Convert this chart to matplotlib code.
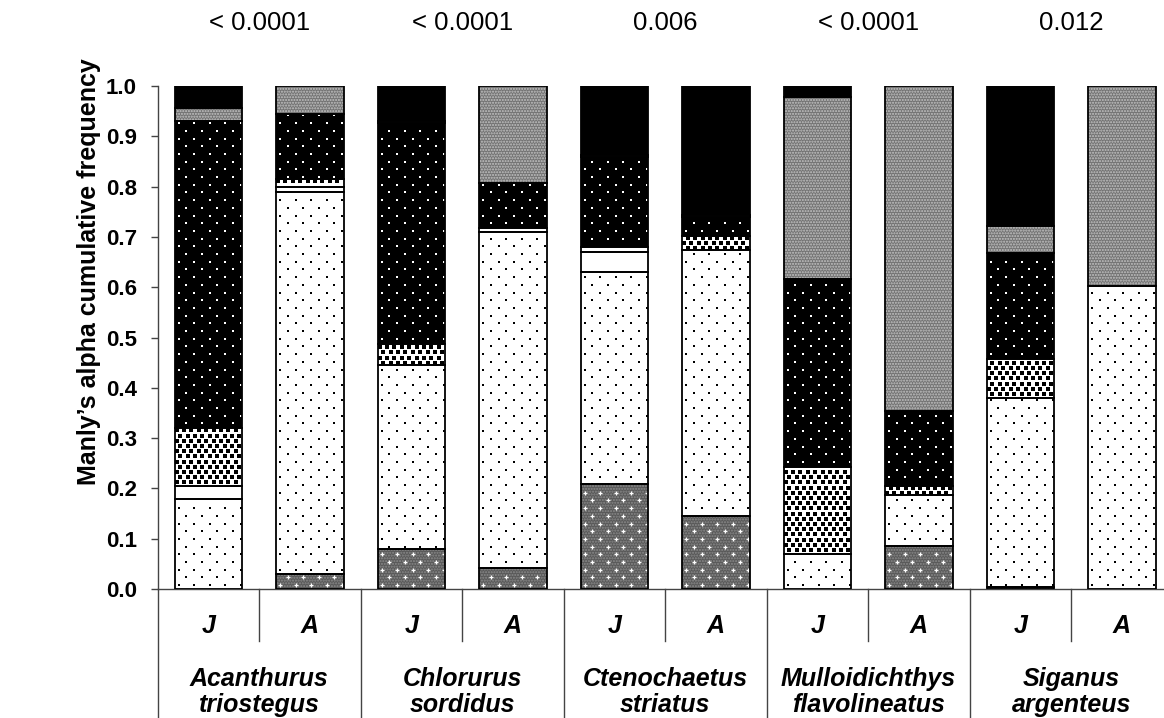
import matplotlib
matplotlib.use("Agg")
import matplotlib.pyplot as plt
from matplotlib.lines import Line2D
import numpy as np

plt.rcParams['font.family'] = ['Liberation Sans', 'DejaVu Sans']
plt.rcParams['hatch.linewidth'] = 1.0

species = ["Acanthurus\ntriostegus", "Chlorurus\nsordidus", "Ctenochaetus\nstriatus",
           "Mulloidichthys\nflavolineatus", "Siganus\nargenteus"]
stages = ["J", "A", "J", "A", "J", "A", "J", "A", "J", "A"]
p_values = ["< 0.0001", "< 0.0001", "0.006", "< 0.0001", "0.012"]

# segment heights, bottom to top, for each bar (J1, A1, J2, A2, ...)
cat1 = [0.000, 0.030, 0.079, 0.041, 0.209, 0.145, 0.000, 0.085, 0.003, 0.000]
cat2 = [0.178, 0.760, 0.367, 0.669, 0.421, 0.528, 0.070, 0.102, 0.376, 0.603]
cat3 = [0.027, 0.010, 0.000, 0.000, 0.039, 0.000, 0.000, 0.000, 0.000, 0.000]
cat4 = [0.115, 0.015, 0.041, 0.007, 0.011, 0.029, 0.173, 0.018, 0.078, 0.000]
cat5 = [0.611, 0.130, 0.440, 0.091, 0.178, 0.037, 0.373, 0.149, 0.210, 0.000]
cat6 = [0.025, 0.055, 0.004, 0.192, 0.005, 0.005, 0.362, 0.646, 0.055, 0.397]
cat7 = [0.044, 0.000, 0.069, 0.000, 0.137, 0.256, 0.022, 0.000, 0.278, 0.000]
cats = [cat1, cat2, cat3, cat4, cat5, cat6, cat7]

# style per category: facecolor, fine hatch (hatch, colour), texture (marker, colour, size, dx_px, dy_px)
styles = [
    ("#595959", ("......", "#8a8a8a"), ("+", "white", 4.5, 15.5, 7.7)),
    ("white", None, ("s", "black", 1.5, 15.5, 7.7)),
    ("white", None, None),
    ("white", None, ("s", "black", 3.4, 7.4, 5.2)),
    ("black", None, ("s", "white", 1.6, 15.5, 7.7)),
    ("#737373", ("......", "#c4c4c4"), None),
    ("black", None, None),
]

W, H = 1164, 718
fig = plt.figure(figsize=(W / 100, H / 100), dpi=100)
x0 = 157.7
slot = 101.5
ax_pix_h = 589 - 86
ax = fig.add_axes([x0 / W, 1 - 589 / H, (W - x0) / W, ax_pix_h / H])
xmax = (W - x0) / slot
ax.set_xlim(0, xmax)
ax.set_ylim(0, 1.0)

x = np.arange(len(stages)) + 0.5
bw = 0.665
bottom = np.zeros(len(stages))
for vals, (fc, hatch, tex) in zip(cats, styles):
    v = np.array(vals)
    ax.bar(x, v, bw, bottom=bottom, color=fc, linewidth=0, zorder=2)
    if hatch is not None:
        ax.bar(x, v, bw, bottom=bottom, fill=False, hatch=hatch[0], edgecolor=hatch[1],
               linewidth=0, zorder=3)
    if tex is not None:
        mk, mc, msz, dxp, dyp = tex
        dx = dxp / slot
        dy = dyp / ax_pix_h
        mx = 1.5 / slot
        my = 1.5 / ax_pix_h
        for xi, b, h in zip(x, bottom, v):
            if h <= 0:
                continue
            xl, xr = xi - bw / 2, xi + bw / 2
            r0 = int(np.floor(b / dy))
            r1 = int(np.ceil((b + h) / dy))
            px, py = [], []
            for r in range(r0, r1 + 1):
                yy = r * dy + dy / 2
                off = (dx / 2) if r % 2 else 0.0
                xs = xl + dx / 4 + off + np.arange(-1, int(bw / dx) + 2) * dx
                for xx in xs:
                    if xl + mx < xx < xr - mx and b + my < yy < b + h - my:
                        px.append(xx)
                        py.append(yy)
            if px:
                ax.scatter(px, py, marker=mk, s=msz ** 2 * 0.52, c=mc,
                           linewidths=(0.9 if mk == '+' else 0), zorder=3.5)
    ecs = ['black' if vv > 0 else 'none' for vv in v]
    ax.bar(x, v, bw, bottom=bottom, fill=False, edgecolor=ecs, linewidth=1.3, zorder=4)
    bottom += v

for s in ['top', 'right']:
    ax.spines[s].set_visible(False)
for s in ['left', 'bottom']:
    ax.spines[s].set_linewidth(1.0)
    ax.spines[s].set_color('#444444')

ticks = np.round(np.arange(0, 1.01, 0.1), 1)
ax.set_yticks(ticks)
ax.set_yticklabels([f"{t:.1f}" for t in ticks], fontsize=16, fontweight='bold')
ax.tick_params(axis='y', direction='out', length=5, width=1, color='#444444', pad=10)
ax.set_xticks([])
ax.set_ylabel("Manly\u2019s alpha cumulative frequency", fontsize=18, fontweight='bold')
ax.yaxis.set_label_coords(-0.0565, 0.63)


def fy(py):
    return 1 - py / H


def fx(data_x):
    return (x0 + data_x * slot) / W


for i in range(0, 10):
    if i % 2 == 1:
        fig.add_artist(Line2D([fx(i), fx(i)], [fy(589), fy(641)], color='#444444', lw=1.0))
    else:
        fig.add_artist(Line2D([fx(i), fx(i)], [fy(589), fy(718)], color='#444444', lw=1.0))

for xi, st in zip(x, stages):
    fig.text(fx(xi), fy(626), st, ha='center', va='center', fontsize=18,
             fontweight='bold', style='italic')

for k, sp in enumerate(species):
    fig.text(fx(2 * k + 1), fy(692), sp, ha='center', va='center', fontsize=18,
             fontweight='bold', style='italic', linespacing=1.08)
    fig.text(fx(2 * k + 1), fy(23), p_values[k], ha='center', va='center',
             fontsize=18.5)

fig.savefig("out.png", dpi=100)
